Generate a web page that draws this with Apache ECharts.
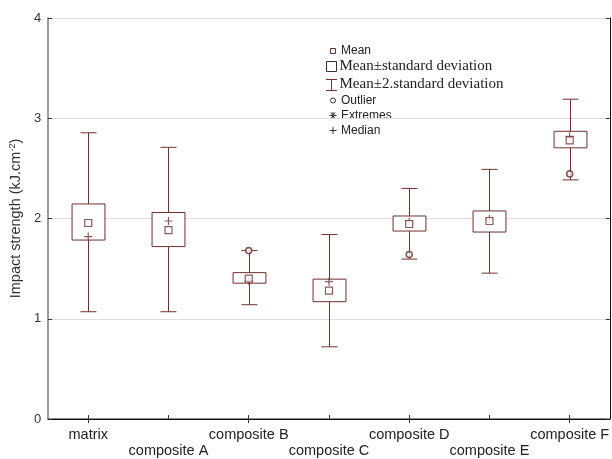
<!DOCTYPE html>
<html>
<head>
<meta charset="utf-8">
<script src="https://cdn.jsdelivr.net/npm/echarts@6/dist/echarts.min.js"></script>
<style>html,body{margin:0;padding:0;background:#fff}#c{width:612px;height:459px}</style>
</head>
<body>
<div id="c"></div>
<script>
const categories = ['matrix','composite A','composite B','composite C','composite D','composite E','composite F'];
const meanValues = [1.955, 1.885, 1.40, 1.28, 1.945, 1.975, 2.78];
const sdLow = [1.785, 1.72, 1.355, 1.17, 1.875, 1.865, 2.705];
const sdHigh = [2.145, 2.06, 1.46, 1.395, 2.025, 2.075, 2.87];
const twoSdLow = [1.07, 1.07, 1.14, 0.72, 1.595, 1.455, 2.385];
const twoSdHigh = [2.855, 2.71, 1.68, 1.84, 2.30, 2.49, 3.19];
const medianValues = [1.82, 1.975, 1.38, 1.37, 1.97, 1.995, 2.82];
const outlierIndex = [2, 4, 6];
const outlierValues = [1.68, 1.64, 2.445];
const yTicks = [0, 1, 2, 3, 4];

const C = '#722f2f';
const SANS = 'Liberation Sans, Arial, sans-serif';
const SERIF = 'Liberation Serif, Times New Roman, serif';

const boxData = categories.map((c, i) => [i, twoSdLow[i], sdLow[i], sdHigh[i], twoSdHigh[i]]);
const meanData = categories.map((c, i) => [i, meanValues[i]]);
const medianData = categories.map((c, i) => [i, medianValues[i]]);
const outlierData = outlierIndex.map((k, j) => [k, outlierValues[j]]);

const chart = echarts.init(document.getElementById('c'), null, {renderer: 'canvas'});

function renderBox(params, api) {
  const x = api.value(0);
  const pLow2 = api.coord([x, api.value(1)]);
  const pLow = api.coord([x, api.value(2)]);
  const pHigh = api.coord([x, api.value(3)]);
  const pHigh2 = api.coord([x, api.value(4)]);
  const band = api.size([1, 0])[0];
  const bw = band * 0.41;
  const cw = band * 0.20;
  const cx = Math.round(pLow[0]) + 0.5;
  const lineStyle = {stroke: C, lineWidth: 1, fill: null};
  return {
    type: 'group',
    children: [
      {type: 'line', shape: {x1: cx, y1: pLow2[1], x2: cx, y2: pHigh2[1]}, style: lineStyle},
      {type: 'line', shape: {x1: cx - cw / 2, y1: pLow2[1], x2: cx + cw / 2, y2: pLow2[1]}, style: lineStyle},
      {type: 'line', shape: {x1: cx - cw / 2, y1: pHigh2[1], x2: cx + cw / 2, y2: pHigh2[1]}, style: lineStyle},
      {type: 'rect', shape: {x: cx - bw / 2, y: pHigh[1], width: bw, height: pLow[1] - pHigh[1]},
        style: {stroke: C, lineWidth: 1, fill: '#fff'}}
    ]
  };
}

const legendGraphic = [
  {type: 'rect', shape: {x: 330.5, y: 48.5, width: 5, height: 5}, style: {fill: '#fff', stroke: C, lineWidth: 1}},
  {type: 'text', x: 341, y: 51, style: {text: 'Mean', font: '12px ' + SANS, fill: '#222', verticalAlign: 'middle'}},
  {type: 'rect', shape: {x: 326.5, y: 61.5, width: 10, height: 10}, style: {fill: '#fff', stroke: '#333', lineWidth: 1}},
  {type: 'text', x: 339.5, y: 66.5, style: {text: 'Mean±standard deviation', font: '15px ' + SERIF, fill: '#222', verticalAlign: 'middle'}},
  {type: 'polyline', shape: {points: [[326, 79.5], [337, 79.5]]}, style: {stroke: C, lineWidth: 1}},
  {type: 'polyline', shape: {points: [[331.5, 79.5], [331.5, 90.5]]}, style: {stroke: C, lineWidth: 1}},
  {type: 'polyline', shape: {points: [[326, 90.5], [337, 90.5]]}, style: {stroke: C, lineWidth: 1}},
  {type: 'text', x: 339.5, y: 84.5, style: {text: 'Mean±2.standard deviation', font: '15px ' + SERIF, fill: '#222', verticalAlign: 'middle'}},
  {type: 'circle', shape: {cx: 333, cy: 100.5, r: 2.5}, style: {fill: '#fff', stroke: '#333', lineWidth: 1}},
  {type: 'text', x: 341, y: 100.5, style: {text: 'Outlier', font: '12px ' + SANS, fill: '#222', verticalAlign: 'middle'}},
  {type: 'polyline', shape: {points: [[329.5, 115.5], [336.5, 115.5]]}, style: {stroke: '#333', lineWidth: 1}},
  {type: 'polyline', shape: {points: [[331, 112.5], [335, 118.5]]}, style: {stroke: '#333', lineWidth: 1}},
  {type: 'polyline', shape: {points: [[335, 112.5], [331, 118.5]]}, style: {stroke: '#333', lineWidth: 1}},
  {type: 'polyline', shape: {points: [[333, 112], [333, 119]]}, style: {stroke: '#333', lineWidth: 1}},
  {type: 'text', x: 341, y: 115.5, style: {text: 'Extremes', font: '12px ' + SANS, fill: '#222', verticalAlign: 'middle'}},
  {type: 'polyline', shape: {points: [[329.5, 130.5], [336.5, 130.5]]}, style: {stroke: '#333', lineWidth: 1}},
  {type: 'polyline', shape: {points: [[333, 127], [333, 134]]}, style: {stroke: '#333', lineWidth: 1}},
  {type: 'text', x: 341, y: 130.5, style: {text: 'Median', font: '12px ' + SANS, fill: '#222', verticalAlign: 'middle'}}
];

const option = {
  animation: false,
  backgroundColor: '#fff',
  grid: {left: 46, right: 2, top: 18, bottom: 39, containLabel: false},
  xAxis: [
    {
      type: 'category', data: categories, position: 'bottom', boundaryGap: true,
      axisLine: {lineStyle: {color: '#6a6a6a', width: 1.5}},
      axisTick: {show: true, inside: true, alignWithLabel: true, length: 4, lineStyle: {color: '#333'}},
      axisLabel: {
        interval: 0, margin: 8, color: '#222', fontSize: 14.5, fontFamily: SANS, lineHeight: 16,
        formatter: function (v, i) { return i % 2 === 1 ? '\n' + v : v; }
      },
      splitLine: {show: false}
    },
    {
      type: 'category', data: categories, position: 'top', boundaryGap: true,
      axisLine: {lineStyle: {color: '#111', width: 1}},
      axisTick: {show: true, inside: true, alignWithLabel: true, length: 4, lineStyle: {color: '#333'}},
      axisLabel: {show: false},
      splitLine: {show: false}
    }
  ],
  yAxis: [
    {
      type: 'value', min: 0, max: 4, interval: 1, position: 'left',
      name: '{a|Impact strength (kJ.cm}{s|-2}{a|)}',
      nameLocation: 'middle', nameGap: 24,
      nameTextStyle: {
        rich: {
          a: {fontSize: 14.5, fontFamily: SANS, color: '#333'},
          s: {fontSize: 9, fontFamily: SANS, color: '#333', verticalAlign: 'top', padding: [0, 0, 6, 0]}
        }
      },
      axisLine: {show: true, lineStyle: {color: '#7a7a7a', width: 1.5}},
      axisTick: {show: true, inside: true, length: 4, lineStyle: {color: '#333'}},
      axisLabel: {margin: 7, color: '#333', fontSize: 13, fontFamily: SANS,
        formatter: function (v) { return yTicks.indexOf(v) >= 0 ? String(v) : ''; }},
      splitLine: {show: true, lineStyle: {color: '#dcdcdc', width: 1}}
    },
    {
      type: 'value', min: 0, max: 4, interval: 1, position: 'right',
      axisLine: {show: true, lineStyle: {color: '#111', width: 1}},
      axisTick: {show: true, inside: true, length: 4, lineStyle: {color: '#333'}},
      axisLabel: {show: false},
      splitLine: {show: false}
    }
  ],
  graphic: legendGraphic,
  series: [
    {
      name: 'Mean±2.standard deviation', type: 'custom', renderItem: renderBox,
      encode: {x: 0, y: [1, 2, 3, 4]}, data: boxData, z: 2
    },
    {
      name: 'Median', type: 'scatter', data: medianData, z: 3,
      symbol: 'path://M0,4L8,4M4,0L4,8', symbolSize: 8,
      itemStyle: {color: 'none', borderColor: C, borderWidth: 1.2}
    },
    {
      name: 'Mean', type: 'scatter', data: meanData, z: 4,
      symbol: 'rect', symbolSize: 7,
      itemStyle: {color: '#fff', borderColor: C, borderWidth: 1.2}
    },
    {
      name: 'Outlier', type: 'scatter', data: outlierData, z: 5,
      symbol: 'circle', symbolSize: 6,
      itemStyle: {color: '#fff', borderColor: C, borderWidth: 1.6}
    }
  ]
};
chart.setOption(option);
</script>
</body>
</html>
